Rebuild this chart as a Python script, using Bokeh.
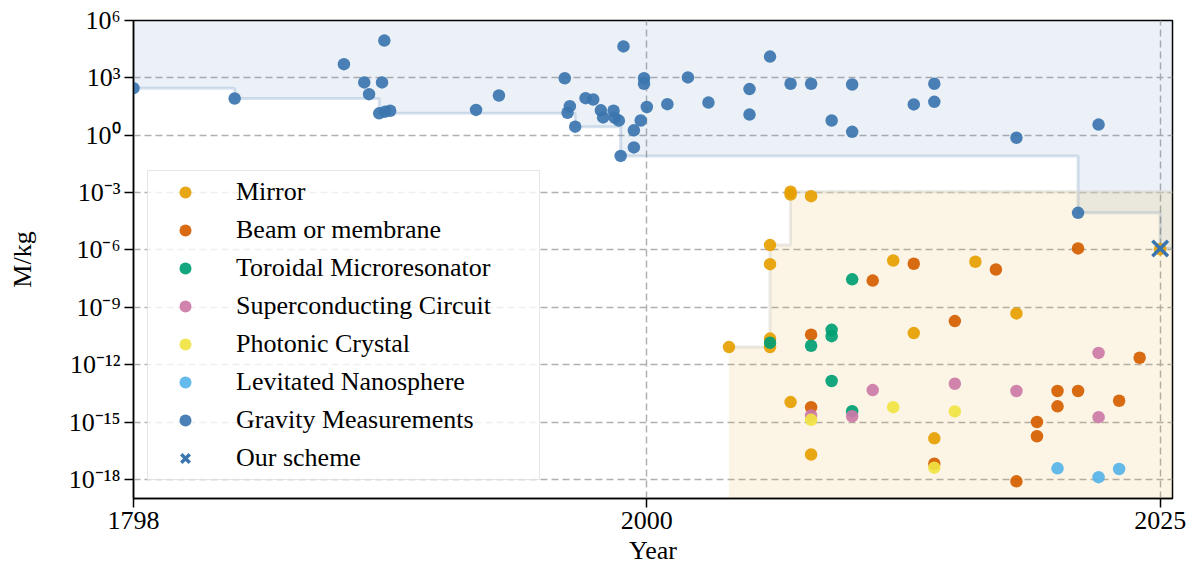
import numpy as np
from bokeh.plotting import figure
from bokeh.models import Range1d, FixedTicker, Legend, LegendItem
from bokeh.embed import file_html
from bokeh.resources import INLINE

FONT = "Liberation Serif"

# ---------------- data ----------------
x_tick_years = [1798, 2000, 2025]
x_tick_labels = ["1798", "2000", "2025"]
x_break_year = 2000
x_end_year = 2025.6
y_tick_values = [1e-18, 1e-15, 1e-12, 1e-9, 1e-6, 1e-3, 1e0, 1e3, 1e6]
y_tick_labels = ["10⁻¹⁸", "10⁻¹⁵", "10⁻¹²", "10⁻⁹", "10⁻⁶", "10⁻³", "10⁰", "10³", "10⁶"]
y_min, y_max = 1e-19, 1e6

mirror_year = [2004, 2006, 2006, 2006, 2006, 2007, 2007, 2007, 2008, 2008,
               2012, 2013, 2014, 2016, 2018, 2025]
mirror_mass = [8.3e-12, 1.8e-6, 1.8e-7, 2.3e-11, 8.3e-12, 1.1e-3, 7.9e-4, 1.1e-14, 6.5e-4, 2.0e-17,
               2.8e-7, 4.5e-11, 1.4e-16, 2.4e-7, 4.8e-10, 1.1e-6]

beam_year = [2008, 2008, 2011, 2013, 2014, 2015, 2017, 2018, 2019, 2019,
             2020, 2020, 2021, 2021, 2023, 2024]
beam_mass = [3.7e-11, 6.0e-15, 2.5e-8, 1.9e-7, 6.6e-18, 1.9e-10, 9.5e-8, 7.9e-19, 1.0e-15, 1.8e-16,
             4.2e-14, 6.6e-15, 4.2e-14, 1.2e-6, 1.3e-14, 2.3e-12]

toroid_year = [2006, 2008, 2009, 2009, 2009, 2010, 2010]
toroid_mass = [1.4e-11, 9.8e-12, 6.6e-11, 3.1e-11, 1.4e-13, 2.9e-8, 3.7e-15]

sc_year = [2008, 2010, 2011, 2015, 2018, 2022, 2022]
sc_mass = [2.2e-15, 2.0e-15, 4.7e-14, 1.0e-13, 4.2e-14, 4.1e-12, 1.8e-15]

phc_year = [2008, 2012, 2014, 2015]
phc_mass = [1.3e-15, 6.0e-15, 4.1e-18, 3.6e-15]

lev_year = [2020, 2022, 2023]
lev_mass = [3.8e-18, 1.3e-18, 3.5e-18]

grav_year = [1798, 1837.8, 1880.8, 1888.8, 1890.7, 1894.7, 1895.8, 1896.7, 1897.0, 1899.0,
             1932.8, 1941.8, 1967.7, 1968.8, 1969.7, 1971.8, 1975.9, 1978.9, 1981.9, 1982.8,
             1986.9, 1987.4, 1989.0, 1989.7, 1990.8, 1994.9, 1994.9, 1997.6, 1998.9, 1998.9,
             2000, 2001, 2002, 2003, 2005, 2005, 2006, 2007, 2008, 2009,
             2010, 2010, 2013, 2014, 2014, 2018, 2021, 2022]
grav_mass = [2.9e2, 8.3e1, 5.2e3, 5.8e2, 1.4e2, 1.4e1, 5.8e2, 8.9e4, 1.7e1, 1.9e1,
             2.1e1, 1.2e2, 9.5e2, 1.5e1, 3.3e1, 2.8, 8.7e1, 7.4e1, 2.0e1, 8.5,
             1.9e1, 8.1, 5.8, 8.3e-2, 4.4e4, 1.8, 2.3e-1, 5.9, 9.5e2, 4.9e2,
             3.0e1, 4.2e1, 1.05e3, 5.1e1, 2.6e2, 1.2e1, 1.3e4, 4.9e2, 4.9e2, 5.9,
             4.5e2, 1.5, 4.1e1, 4.9e2, 5.6e1, 7.4e-1, 8.7e-5, 3.6]

scheme_year = [2025]
scheme_mass = [1.2e-6]

BLUE = "#3b75af"
series = [
    ("Mirror", "#E69F00", mirror_year, mirror_mass),
    ("Beam or membrane", "#D55E00", beam_year, beam_mass),
    ("Toroidal Microresonator", "#009E73", toroid_year, toroid_mass),
    ("Superconducting Circuit", "#CC79A7", sc_year, sc_mass),
    ("Photonic Crystal", "#F0E442", phc_year, phc_mass),
    ("Levitated Nanosphere", "#56B4E9", lev_year, lev_mass),
    ("Gravity Measurements", BLUE, grav_year, grav_mass),
]


# piecewise year axis: 1798-2000 on the left half, 2000-2025 on the right half
def xmap(years):
    y = np.asarray(years, dtype=float)
    return np.where(y < x_break_year,
                    (y - x_tick_years[0]) / (x_break_year - x_tick_years[0]),
                    1.0 + (y - x_break_year) / (x_tick_years[2] - x_break_year))


x_end = float(xmap([x_end_year])[0])

p = figure(width=1193, height=574, y_axis_type="log",
           x_range=Range1d(0, x_end), y_range=Range1d(y_min, y_max),
           output_backend="svg", toolbar_location=None,
           min_border_left=133, min_border_right=21, min_border_top=20, min_border_bottom=76)
p.background_fill_color = "white"
p.border_fill_color = "white"
p.outline_line_color = "black"
p.outline_line_width = 1.5
p.outline_line_alpha = 1.0

# ---- frontier regions ----
gy = np.array(grav_year + scheme_year, dtype=float)
gm = np.array(grav_mass + scheme_mass, dtype=float)
o = np.argsort(gy, kind="stable")
gmin = np.minimum.accumulate(gm[o])
bx = np.append(xmap(gy[o]), x_end)
by = np.append(gmin, gmin[-1])
p.varea_step(x=bx, y1=by, y2=np.full(len(by), y_max), step_mode="after",
             fill_color=BLUE, fill_alpha=0.1)
p.step(x=bx, y=by, mode="after", line_color=BLUE, line_alpha=0.2, line_width=3)

oy = np.concatenate([np.asarray(s[2], float) for s in series[:6]])
om = np.concatenate([np.asarray(s[3], float) for s in series[:6]])
o2 = np.argsort(oy, kind="stable")
omax = np.maximum.accumulate(om[o2])
ox = np.append(xmap(oy[o2]), x_end)
oyv = np.append(omax, omax[-1])
p.varea_step(x=ox, y1=np.full(len(oyv), y_min), y2=oyv, step_mode="after",
             fill_color="#E69F00", fill_alpha=0.1)
p.step(x=ox, y=oyv, mode="after", line_color="#d8d4cc", line_alpha=0.5, line_width=3)

# ---- points ----
items = []
for name, color, yrs, mass in series:
    r = p.scatter(x=xmap(yrs), y=mass, size=12.5, fill_color=color, line_color=None,
                  fill_alpha=0.92)
    items.append(LegendItem(label=name, renderers=[r]))
rs = p.scatter(x=xmap(scheme_year), y=scheme_mass, marker="x", size=22,
               line_color=BLUE, line_width=3.5)
items.append(LegendItem(label="Our scheme", renderers=[rs]))

# ---- axes ----
p.xaxis.ticker = FixedTicker(ticks=[float(v) for v in xmap(x_tick_years)])
p.xaxis.major_label_overrides = {float(v): lab for v, lab in zip(xmap(x_tick_years), x_tick_labels)}
p.yaxis.ticker = FixedTicker(ticks=y_tick_values)
p.yaxis.major_label_overrides = dict(zip(y_tick_values, y_tick_labels))
p.xaxis.axis_label = "Year"
p.yaxis.axis_label = "M/kg"
for ax in (p.xaxis, p.yaxis):
    ax.axis_line_color = "black"
    ax.axis_line_width = 1.5
    ax.major_tick_line_color = "black"
    ax.major_tick_line_width = 1.5
    ax.major_tick_out = 9
    ax.major_tick_in = 0
    ax.minor_tick_out = 0
    ax.minor_tick_in = 0
    ax.major_label_text_font = FONT
    ax.major_label_text_font_size = "26px"
    ax.major_label_text_color = "black"
    ax.axis_label_text_font = FONT
    ax.axis_label_text_font_size = "26px"
    ax.axis_label_text_font_style = "normal"
    ax.axis_label_text_color = "black"
p.xaxis.major_label_standoff = 4
p.xaxis.axis_label_standoff = 4
p.yaxis.major_label_standoff = 4
p.yaxis.axis_label_standoff = 29

for g in (p.xgrid, p.ygrid):
    g.grid_line_color = "#b0b0b0"
    g.grid_line_width = 1.5
    g.grid_line_dash = "7 4"
p.xgrid.ticker = p.xaxis.ticker
p.ygrid.ticker = p.yaxis.ticker

legend = Legend(items=items, location=(14, 18))
legend.label_text_font = FONT
legend.label_text_font_size = "26px"
legend.label_text_color = "black"
legend.glyph_width = 62
legend.glyph_height = 30
legend.label_height = 30
legend.label_width = 297
legend.label_standoff = 20
legend.spacing = 8
legend.padding = 6
legend.margin = 0
legend.border_line_color = "#cccccc"
legend.border_line_width = 1.5
legend.background_fill_color = "white"
legend.background_fill_alpha = 0.8
p.add_layout(legend, "center")

open("out.html", "w").write(file_html(p, INLINE))
